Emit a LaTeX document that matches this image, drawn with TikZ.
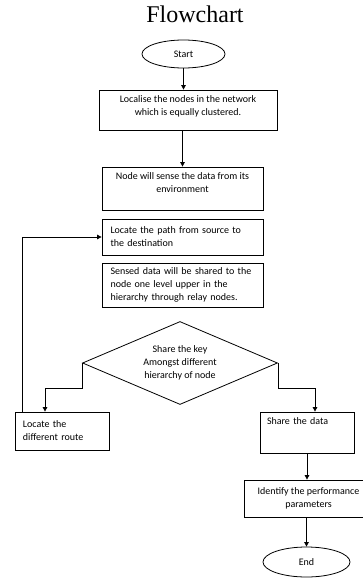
\documentclass[tikz,border=0pt]{standalone}
\usepackage{fontspec}
\setmainfont{Liberation Serif}
\newfontfamily\boxfont{Carlito}
\usetikzlibrary{shapes.geometric,arrows.meta}

\begin{document}
\begin{tikzpicture}[x=1pt, y=1pt, font=\boxfont\fontsize{10}{13}\selectfont,
    every node/.style={line width=0.8pt, inner sep=0pt},
    box/.style={draw, shape=rectangle},
    term/.style={draw, shape=ellipse},
    arr/.style={-{Triangle[length=4.5pt,width=4.5pt]}, line width=0.8pt}]
    \useasboundingbox (0,0) rectangle (363,-578);
    \clip (0,0) rectangle (363,-578);

    \node (title) [anchor=base, font=\rmfamily\fontsize{24}{28}\selectfont] at (195,-23) {Flowchart};
    \node (start) [term, minimum width=83, minimum height=28] at (183.5,-54) {Start};
    \node (local) [box, minimum width=178, minimum height=40, align=center, text depth=8pt] at (188,-110) {Localise the nodes in the network\\which is equally clustered.};
    \node (sense) [box, minimum width=161, minimum height=43, align=center, text depth=12pt] at (182.5,-188.5) {Node will sense the data from its\\environment};
    \node (path) [box, minimum height=36, inner xsep=8.5pt, text width=144pt, align=left] at (182.5,-237) {Locate the path from source to\\the destination};
    \node (share) [box, minimum height=44, inner xsep=8.5pt, text width=144pt, align=left] at (182.5,-285) {Sensed data will be shared to the\\node one level upper in the\\hierarchy through relay nodes.};
    \node (key) [draw, shape=diamond, aspect=2.35, minimum width=195, minimum height=83, align=center] at (180,-363) {Share the key\\Amongst different\\hierarchy of node};
    \node (route) [box, minimum height=38, inner xsep=8pt, text width=78pt, align=left] at (62,-431) {Locate the\\different route};
    \node (data) [box, minimum height=41, inner xsep=7pt, text width=80pt, align=left, text depth=22pt] at (307,-432.5) {Share the data};
    \node (perf) [box, minimum width=129, minimum height=37, align=center] at (308.5,-498.5) {Identify the performance\\parameters};
    \node (stop) [term, minimum width=87, minimum height=30] at (306.5,-562) {End};

    \draw [arr] (start.south) -- (start.south |- local.north);
    \draw [arr] (sense.north |- local.south) -- (sense.north);
    \draw [arr] (key.west) -- ++(0,-25) -| ([xshift=-17pt]route.north);
    \draw [arr] (key.east) -- ++(0,-25) -| ([xshift=8pt]data.north);
    \draw [arr] ([xshift=8pt]route.north west) |- (path.west);
    \draw [arr] (data.south) -- (data.south |- perf.north);
    \draw [arr] (stop.north |- perf.south) -- (stop.north);
\end{tikzpicture}
\end{document}
